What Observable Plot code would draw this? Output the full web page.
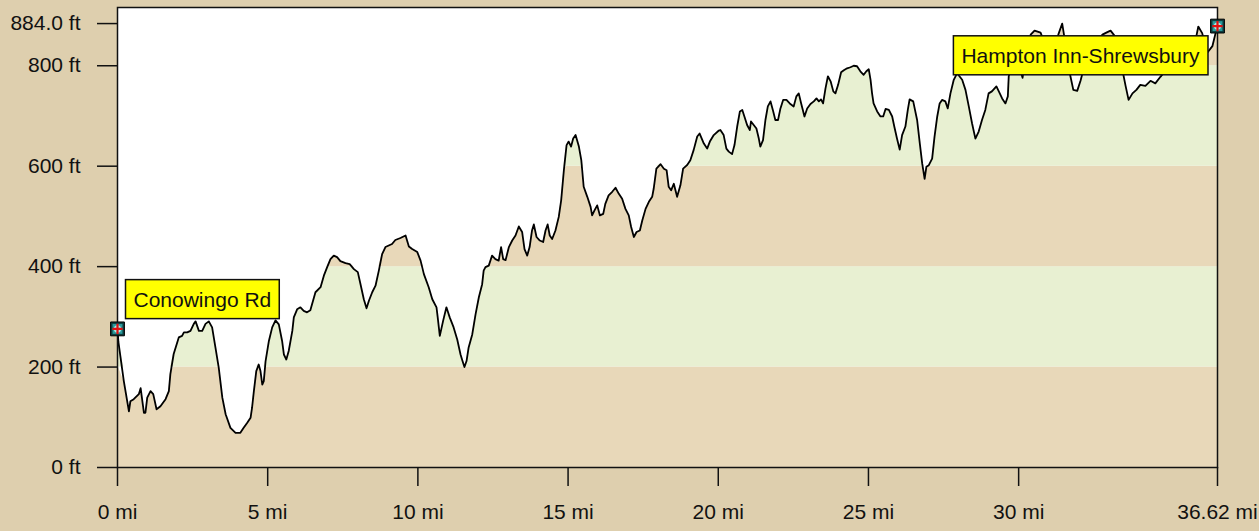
<!DOCTYPE html>
<html><head><meta charset="utf-8">
<script src="https://cdn.jsdelivr.net/npm/d3@7"></script>
<script src="https://cdn.jsdelivr.net/npm/@observablehq/plot@0.6"></script>
<style>html,body{margin:0;padding:0;background:#DECFAE;overflow:hidden}</style>
</head><body><div id="chart"></div>
<script>
// Elevation profile: [distance in miles, elevation in feet]
const profilePoints = [
[0.00,276],[0.03,250],[0.21,172],[0.38,112],[0.43,132],[0.54,136],[0.71,146],[0.77,158],[0.88,109],[0.93,109],
[0.99,139],[1.10,152],[1.19,146],[1.30,116],[1.43,122],[1.60,136],[1.71,152],[1.76,186],[1.87,226],[2.04,259],
[2.15,262],[2.21,269],[2.32,269],[2.43,272],[2.54,286],[2.60,291],[2.71,272],[2.82,272],[2.93,286],[3.04,291],
[3.15,279],[3.26,239],[3.37,199],[3.49,139],[3.60,106],[3.76,79],[3.93,69],[4.09,69],[4.20,79],[4.32,89],
[4.43,99],[4.48,119],[4.54,152],[4.62,192],[4.70,205],[4.76,192],[4.82,165],[4.87,172],[4.93,212],[5.04,252],
[5.15,279],[5.26,293],[5.37,285],[5.48,252],[5.54,225],[5.62,215],[5.70,232],[5.82,272],[5.87,299],[5.98,315],
[6.09,319],[6.20,312],[6.31,309],[6.42,313],[6.59,349],[6.76,359],[6.87,382],[6.98,399],[7.09,415],[7.20,422],
[7.31,419],[7.42,411],[7.59,407],[7.73,405],[7.87,395],[8.00,389],[8.09,365],[8.20,335],[8.29,317],[8.37,332],
[8.48,349],[8.59,362],[8.70,392],[8.81,425],[8.92,439],[9.03,442],[9.14,445],[9.25,453],[9.42,457],[9.59,462],
[9.70,440],[9.81,435],[9.98,429],[10.09,412],[10.20,385],[10.36,359],[10.48,335],[10.62,319],[10.66,299],[10.73,262],
[10.84,292],[10.95,319],[11.06,299],[11.19,279],[11.31,255],[11.42,225],[11.47,215],[11.55,200],[11.62,212],[11.69,239],
[11.81,265],[11.92,305],[12.03,339],[12.14,365],[12.19,392],[12.25,399],[12.36,402],[12.47,422],[12.58,415],[12.69,412],
[12.77,439],[12.84,415],[12.92,413],[13.03,439],[13.14,452],[13.25,462],[13.36,480],[13.47,469],[13.55,435],[13.64,422],
[13.72,439],[13.80,472],[13.86,484],[13.95,459],[14.06,452],[14.17,449],[14.25,472],[14.32,484],[14.39,462],[14.47,455],
[14.58,472],[14.69,499],[14.77,532],[14.86,592],[14.95,642],[15.02,649],[15.10,639],[15.17,655],[15.25,662],[15.36,639],
[15.44,612],[15.52,559],[15.64,539],[15.75,519],[15.80,502],[15.88,512],[15.97,522],[16.06,502],[16.17,505],[16.24,525],
[16.35,542],[16.47,549],[16.58,557],[16.69,545],[16.80,535],[16.91,515],[17.02,502],[17.10,479],[17.19,459],[17.28,469],
[17.39,472],[17.47,492],[17.58,515],[17.69,529],[17.80,539],[17.85,555],[17.94,595],[18.08,604],[18.19,595],[18.28,592],
[18.35,559],[18.43,552],[18.52,565],[18.63,539],[18.74,562],[18.83,595],[18.96,602],[19.07,612],[19.18,632],[19.30,659],
[19.38,665],[19.52,645],[19.63,635],[19.72,649],[19.85,662],[20.02,671],[20.07,672],[20.18,662],[20.27,635],[20.35,629],
[20.46,624],[20.54,642],[20.63,679],[20.72,709],[20.80,712],[20.87,699],[20.96,682],[21.05,672],[21.09,689],[21.18,682],
[21.27,675],[21.35,655],[21.40,639],[21.49,652],[21.57,692],[21.65,719],[21.74,729],[21.83,709],[21.90,692],[21.99,692],
[22.07,715],[22.16,732],[22.27,732],[22.38,725],[22.51,719],[22.60,739],[22.68,745],[22.76,725],[22.87,699],[22.96,715],
[23.07,724],[23.18,729],[23.27,735],[23.35,729],[23.42,733],[23.49,725],[23.57,755],[23.65,779],[23.74,769],[23.83,749],
[23.90,745],[23.99,762],[24.09,787],[24.18,791],[24.29,795],[24.40,797],[24.51,800],[24.62,799],[24.73,789],[24.84,782],
[24.93,789],[25.01,793],[25.07,772],[25.12,745],[25.17,725],[25.29,709],[25.40,699],[25.49,699],[25.57,714],[25.68,712],
[25.79,699],[25.86,679],[25.95,655],[26.04,633],[26.12,662],[26.23,679],[26.31,712],[26.37,733],[26.49,729],[26.62,692],
[26.71,645],[26.79,605],[26.87,575],[26.93,599],[27.01,602],[27.12,615],[27.20,659],[27.29,699],[27.37,725],[27.45,732],
[27.56,729],[27.64,715],[27.73,745],[27.84,772],[27.95,785],[28.12,772],[28.23,752],[28.34,719],[28.45,685],[28.56,655],
[28.67,669],[28.78,692],[28.89,712],[29.00,745],[29.11,749],[29.26,759],[29.34,749],[29.45,735],[29.56,725],[29.64,739],
[29.67,779],[29.79,800],[29.93,820],[30.06,790],[30.13,776],[30.26,830],[30.40,862],[30.53,870],[30.73,866],[30.83,850],
[30.99,830],[31.16,840],[31.32,862],[31.45,884],[31.52,858],[31.62,820],[31.72,780],[31.82,752],[31.95,750],[32.06,770],
[32.19,800],[32.39,830],[32.59,845],[32.79,862],[32.92,866],[33.06,870],[33.19,860],[33.32,840],[33.46,790],[33.56,760],
[33.66,732],[33.79,745],[33.92,752],[34.05,762],[34.22,760],[34.39,770],[34.55,765],[34.72,778],[34.89,790],[35.05,800],
[35.38,810],[35.72,830],[35.92,860],[35.98,878],[36.11,865],[36.28,826],[36.45,839],[36.56,866],[36.62,879]
];
const bandEdges = [0, 200, 400, 600, 800, 916];
const bandColors = ["#E8D8B9", "#E8F0D2", "#E8D8B9", "#E8F0D2", "#E8D8B9"];
const xTicks = [0, 5, 10, 15, 20, 25, 30, 36.62];
const xTickLabels = ["0 mi", "5 mi", "10 mi", "15 mi", "20 mi", "25 mi", "30 mi", "36.62 mi"];
const yTicks = [0, 200, 400, 600, 800, 884];
const yTickLabels = ["0 ft", "200 ft", "400 ft", "600 ft", "800 ft", "884.0 ft"];
const waypointNames = ["Conowingo Rd", "Hampton Inn-Shrewsbury"];

const profile = profilePoints.map(([mi, ft]) => ({mi, ft}));
const waypoints = [
  {name: waypointNames[0], mi: profile[0].mi, ft: profile[0].ft},
  {name: waypointNames[1], mi: profile[profile.length - 1].mi, ft: profile[profile.length - 1].ft}
];

const bandMarks = bandColors.map((c, i) => {
  const lo = bandEdges[i], hi = bandEdges[i + 1];
  return Plot.areaY(profile, {x: "mi", y1: () => lo, y2: d => Math.max(lo, Math.min(hi, d.ft)), fill: c});
});

const chart = Plot.plot({
  width: 1259, height: 531,
  marginLeft: 117, marginRight: 42, marginTop: 7, marginBottom: 64,
  style: {fontFamily: "'Liberation Sans', Arial, sans-serif", fontSize: "21px", background: "#DECFAE", color: "#111", overflow: "visible"},
  x: {domain: [0, 36.62]},
  y: {domain: [0, 916]},
  marks: [
    Plot.frame({fill: "white", stroke: "none"}),
    ...bandMarks,
    Plot.line(profile, {x: "mi", y: "ft", stroke: "#000", strokeWidth: 1.8}),
    Plot.frame({stroke: "#111", strokeWidth: 1.5}),
    Plot.axisX({ticks: xTicks, tickFormat: d => xTickLabels[xTicks.indexOf(d)], tickSize: 19, tickPadding: 18, label: null, strokeWidth: 1.5}),
    Plot.axisY({ticks: yTicks, tickFormat: d => yTickLabels[yTicks.indexOf(d)], tickSize: 20, tickPadding: 17, label: null, strokeWidth: 1.5}),
    Plot.dot(waypoints, {x: "mi", y: "ft", symbol: "square", r: 7.8, fill: "#0d3c3e", stroke: "#000", strokeWidth: 1}),
    Plot.dot(waypoints, {x: "mi", y: "ft", symbol: "square", r: 5.6, fill: "#2a9a9c", stroke: "none"}),
    Plot.dot(waypoints, {x: "mi", y: "ft", r: 3.6, fill: "#a8ece8", stroke: "none"}),
    Plot.dot(waypoints, {x: "mi", y: "ft", symbol: "plus", r: 3.4, fill: "none", stroke: "#e01010", strokeWidth: 2.2}),
    Plot.text([waypoints[0]], {x: "mi", y: "ft", text: "name", textAnchor: "start", lineAnchor: "middle", dx: 16, dy: -29, fontSize: 21, fill: "#111"}),
    Plot.text([waypoints[1]], {x: "mi", y: "ft", text: "name", textAnchor: "end", lineAnchor: "middle", dx: -18, dy: 30, fontSize: 21, fill: "#111"})
  ]
});
document.getElementById("chart").append(chart);

// yellow label boxes behind waypoint names
d3.select(chart).selectAll("text").filter(function() { return waypointNames.includes(this.textContent); })
  .each(function() {
    const node = this;
    const b = node.getBBox();
    d3.select(node.parentNode).insert("rect", () => node)
      .attr("x", b.x - 8).attr("y", b.y - 8)
      .attr("width", b.width + 16).attr("height", b.height + 16)
      .attr("fill", "#FFFF00").attr("stroke", "#111").attr("stroke-width", 1.5)
      .attr("transform", node.getAttribute("transform"));
  });
</script>
</body></html>
